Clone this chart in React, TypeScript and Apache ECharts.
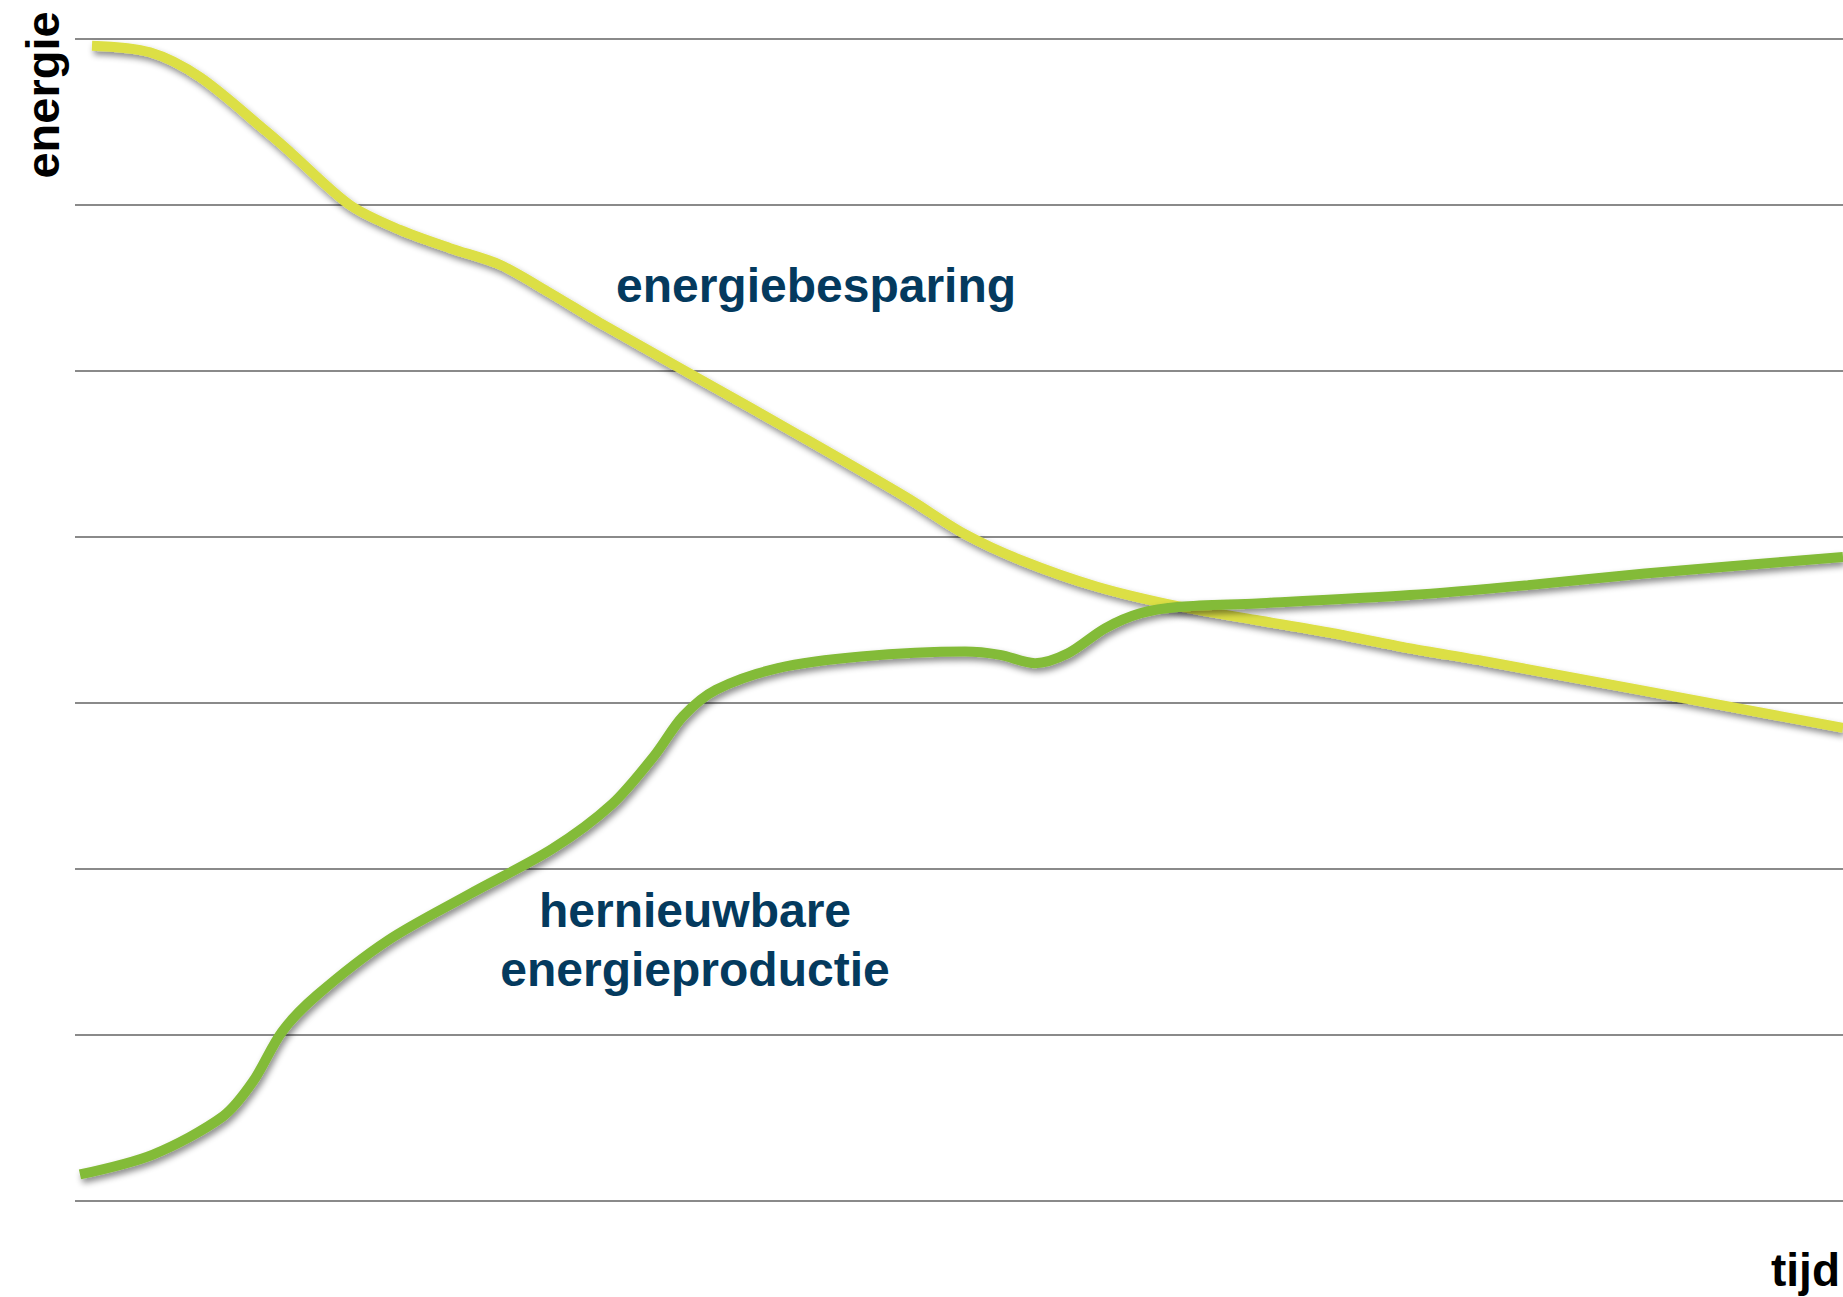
import React, { useEffect, useRef } from "react";
import * as echarts from "echarts";

// time position (0..100) and energy level (0..7)
const besparingX = [0.96, 4.24, 7.07, 10.86, 12.16, 15.55, 18.38, 21.21, 24.04, 26.87, 29.69, 35.35, 41.0, 47.0, 50.28, 53.51, 57.81, 62.5, 66.8, 71.15, 75.45, 79.81, 100];
const besparingY = [6.96, 6.92, 6.77, 6.44, 6.32, 6.0, 5.85, 5.74, 5.64, 5.47, 5.29, 4.95, 4.61, 4.24, 4.02, 3.86, 3.7, 3.58, 3.5, 3.42, 3.33, 3.25, 2.85];

const productieX = [0.28, 4.41, 8.37, 10.07, 11.71, 13.69, 17.7, 22.34, 26.98, 30.37, 32.75, 34.39, 36.26, 39.76, 44.46, 50.34, 52.32, 54.3, 56.17, 58.26, 60.24, 62.5, 66.86, 75.51, 82.18, 88.8, 100];
const productieY = [0.16, 0.28, 0.51, 0.72, 1.02, 1.24, 1.57, 1.85, 2.12, 2.39, 2.68, 2.92, 3.08, 3.21, 3.28, 3.31, 3.29, 3.24, 3.3, 3.45, 3.54, 3.58, 3.6, 3.65, 3.71, 3.78, 3.88];

const yAxisName = "energie";
const xAxisName = "tijd";
const labelBesparing = "energiebesparing";
const labelProductie = ["hernieuwbare", "energieproductie"];

const FONT = "'Liberation Sans', Arial, Helvetica, sans-serif";
const LABEL_COLOR = "#043a5e";

export default function App() {
  const ref = useRef<HTMLDivElement>(null);

  useEffect(() => {
    if (!ref.current) return;
    const chart = echarts.init(ref.current, undefined, { renderer: "svg" });
    const pair = (xs: number[], ys: number[]) => xs.map((x, i) => [x, ys[i]]);
    const shadow = {
      shadowColor: "rgba(0,0,0,0.45)",
      shadowBlur: 6,
      shadowOffsetX: 2,
      shadowOffsetY: 4,
    };
    chart.setOption({
      animation: false,
      backgroundColor: "#ffffff",
      grid: { left: 75, right: 0, top: 39, bottom: 96, containLabel: false },
      xAxis: {
        type: "value",
        min: 0,
        max: 100,
        axisLine: { show: false },
        axisTick: { show: false },
        axisLabel: { show: false },
        splitLine: { show: false },
      },
      yAxis: {
        type: "value",
        min: 0,
        max: 7,
        interval: 1,
        axisLine: { show: false },
        axisTick: { show: false },
        axisLabel: { show: false },
        splitLine: { show: true, lineStyle: { color: "#8a8a8a", width: 2 } },
      },
      series: [
        {
          name: labelBesparing,
          type: "line",
          data: pair(besparingX, besparingY),
          smooth: 0.3,
          symbol: "none",
          lineStyle: { color: "#dcdf45", width: 10, cap: "butt", ...shadow },
          z: 2,
        },
        {
          name: labelProductie.join(" "),
          type: "line",
          data: pair(productieX, productieY),
          smooth: 0.3,
          symbol: "none",
          lineStyle: { color: "#83bb38", width: 10, cap: "butt", ...shadow },
          z: 3,
        },
      ],
      graphic: [
        {
          type: "text",
          x: 42,
          y: 95,
          rotation: Math.PI / 2,
          style: {
            text: yAxisName,
            font: `bold 47px ${FONT}`,
            fill: "#000000",
            textAlign: "center",
            textVerticalAlign: "middle",
          },
        },
        {
          type: "text",
          x: 1840,
          y: 1270,
          style: {
            text: xAxisName,
            font: `bold 46px ${FONT}`,
            fill: "#000000",
            textAlign: "right",
            textVerticalAlign: "middle",
          },
        },
        {
          type: "text",
          x: 816,
          y: 285,
          style: {
            text: labelBesparing,
            font: `bold 48px ${FONT}`,
            fill: LABEL_COLOR,
            textAlign: "center",
            textVerticalAlign: "middle",
          },
        },
        {
          type: "text",
          x: 695,
          y: 910,
          style: {
            text: labelProductie[0],
            font: `bold 48px ${FONT}`,
            fill: LABEL_COLOR,
            textAlign: "center",
            textVerticalAlign: "middle",
          },
        },
        {
          type: "text",
          x: 695,
          y: 969,
          style: {
            text: labelProductie[1],
            font: `bold 48px ${FONT}`,
            fill: LABEL_COLOR,
            textAlign: "center",
            textVerticalAlign: "middle",
          },
        },
      ],
    });
    return () => chart.dispose();
  }, []);

  return (
    <div
      ref={ref}
      style={{ position: "fixed", left: 0, top: 0, width: 1843, height: 1297, background: "#fff" }}
    />
  );
}
